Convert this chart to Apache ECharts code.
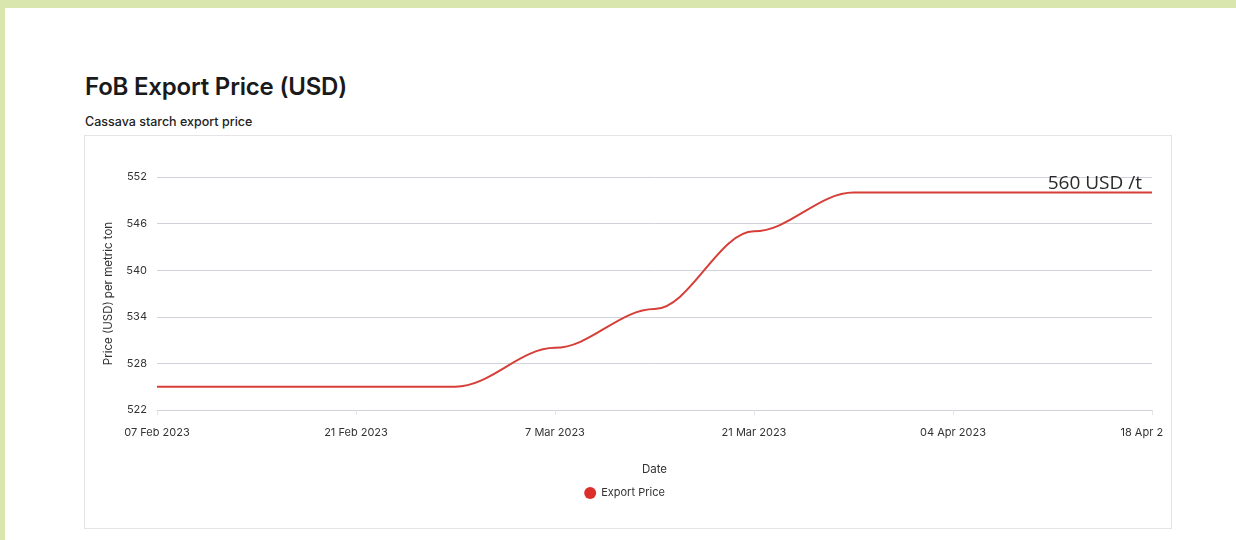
<!DOCTYPE html>
<html>
<head>
<meta charset="utf-8">
<script src="https://cdn.jsdelivr.net/npm/echarts@6/dist/echarts.min.js"></script>
<style>
  html, body { margin: 0; padding: 0; width: 1236px; height: 540px; overflow: hidden; background: #d9e6ad; }
  #panel { position: absolute; left: 5px; top: 8px; right: 0; bottom: 0; background: #fff; }
  #title { position: absolute; left: 80px; top: 64px; font: 600 24px Inter, "Open Sans", sans-serif; color: #1a1a1a; letter-spacing: -0.2px; }
  #subtitle { position: absolute; left: 80px; top: 106px; font: 500 12.5px Inter, "Open Sans", sans-serif; color: #222; }
  #box { position: absolute; left: 79px; top: 127px; width: 1088px; height: 394px; border: 1px solid #e4e4e4; box-sizing: border-box; }
  #chart { position: absolute; left: 1px; top: 1px; width: 1077px; height: 392px; }
</style>
</head>
<body>
<div id="panel">
  <div id="title">FoB Export Price (USD)</div>
  <div id="subtitle">Cassava starch export price</div>
  <div id="box"><div id="chart"></div></div>
</div>
<script>
// weekly prices
var dates = ["2023-02-07", "2023-02-14", "2023-02-21", "2023-02-28", "2023-03-07",
  "2023-03-14", "2023-03-21", "2023-03-28", "2023-04-04", "2023-04-11", "2023-04-18"];
var prices = [525, 525, 525, 525, 530, 535, 545, 550, 550, 550, 550];
var tickLabels = ["07 Feb 2023", "21 Feb 2023", "7 Mar 2023", "21 Mar 2023", "04 Apr 2023", "18 Apr 2023"];
var seriesName = "Export Price";
var noteText = "560 USD /t";

var start = Date.parse(dates[0]);
var dayNo = function (d) { return Math.round((Date.parse(d) - start) / 864e5); };
var points = dates.map(function (d, i) { return [dayNo(d), prices[i]]; });

var chart = echarts.init(document.getElementById("chart"));
var font = "Inter, 'Open Sans', sans-serif";
chart.setOption({
  animation: false,
  textStyle: { fontFamily: font },
  grid: { left: 71, right: 11, top: 40, bottom: 119, containLabel: false, outerBoundsMode: "none" },
  legend: {
    data: [seriesName],
    top: 345,
    left: "center",
    icon: "circle",
    itemWidth: 12,
    itemHeight: 12,
    itemGap: 4,
    textStyle: { fontSize: 11, color: "#333", fontFamily: font }
  },
  xAxis: {
    type: "value",
    min: 0,
    max: 70,
    interval: 14,
    name: "Date",
    nameLocation: "middle",
    nameGap: 54,
    nameTextStyle: { fontSize: 11.5, color: "#333", fontFamily: font },
    axisLine: { show: true, lineStyle: { color: "#cfd2d8" } },
    axisTick: { show: true, length: 5, lineStyle: { color: "#e2e4e8" } },
    splitLine: { show: false },
    axisLabel: {
      margin: 17,
      fontSize: 11,
      color: "#333",
      fontFamily: font,
      hideOverlap: false,
      formatter: function (v) { return tickLabels[Math.round(v / 14)] || ""; }
    }
  },
  yAxis: {
    type: "value",
    min: 522,
    max: 552,
    interval: 6,
    name: "Price (USD) per metric ton",
    nameLocation: "middle",
    nameGap: 42,
    nameTextStyle: { fontSize: 11.5, color: "#333", fontFamily: font },
    axisLine: { show: false },
    axisTick: { show: false },
    axisLabel: { margin: 10, fontSize: 11, color: "#333", fontFamily: font },
    splitLine: { lineStyle: { color: "#cfd2d8" } }
  },
  series: [{
    name: seriesName,
    type: "line",
    data: points,
    smooth: 0.35,
    smoothMonotone: "x",
    showSymbol: false,
    color: "#dc2e2a",
    lineStyle: { width: 2, color: "#d63f37" },
    markPoint: {
      symbolSize: 0,
      data: [{ coord: points[points.length - 1] }],
      label: {
        show: true,
        position: "left",
        distance: 10,
        offset: [0, -9],
        formatter: noteText,
        fontSize: 19,
        fontWeight: 400,
        color: "#2a2a2a",
        fontFamily: "'Open Sans', sans-serif"
      }
    }
  }]
});
</script>
</body>
</html>
